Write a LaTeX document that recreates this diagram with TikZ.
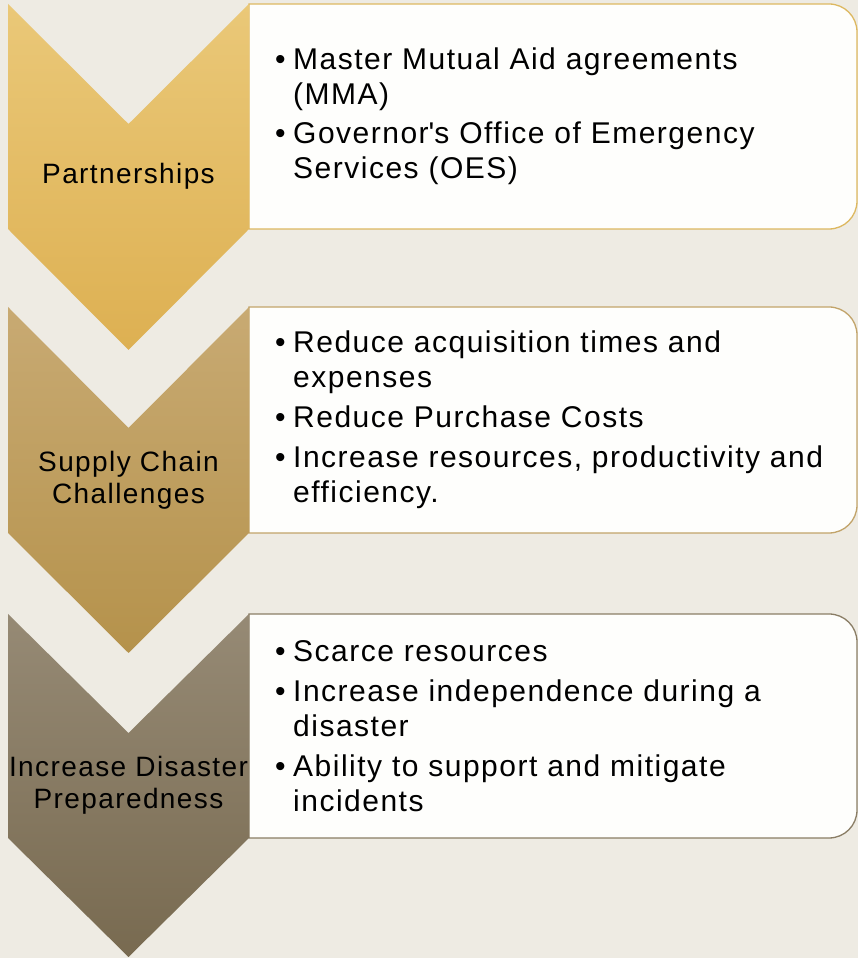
\documentclass[tikz,border=0pt]{standalone}
\usepackage{fontspec}
\setmainfont{Liberation Sans}[LetterSpace=5]
\usetikzlibrary{positioning}
\definecolor{paper}{HTML}{EEEBE3}
\definecolor{cardwhite}{HTML}{FEFEFC}
\definecolor{goldA}{HTML}{EAC878}
\definecolor{goldB}{HTML}{DDB052}
\definecolor{tanA}{HTML}{C8AA73}
\definecolor{tanB}{HTML}{B5924B}
\definecolor{umberA}{HTML}{968A75}
\definecolor{umberB}{HTML}{786A50}
\definecolor{goldline}{HTML}{DDB860}
\definecolor{tanline}{HTML}{C2A46A}
\definecolor{umberline}{HTML}{8A7D65}
\tikzset{
  steplabel/.style={font=\fontsize{28}{32}\selectfont, text=black, align=center},
  itemlist/.style={font=\fontsize{30}{35}\selectfont, text=black, align=left, anchor=west, inner sep=0pt},
  card/.style={fill=cardwhite, line width=1.3pt},
  goldcard/.style={card, draw=goldline},
  tancard/.style={card, draw=tanline},
  umbercard/.style={card, draw=umberline},
  goldchev/.style={top color=goldA, bottom color=goldB},
  tanchev/.style={top color=tanA, bottom color=tanB},
  umberchev/.style={top color=umberA, bottom color=umberB}
}
\newcommand{\bitem}{\makebox[18pt][l]{\textbullet}}
\newcommand{\bcont}{\hspace*{18pt}}

\begin{document}
\begin{tikzpicture}[x=1pt,y=1pt]
\useasboundingbox (0,0) rectangle (858,958);
\fill[paper] (0,0) rectangle (858,958);

% cards, rounded on the right only
\draw[goldcard] (249,729) -- (249,954) -- (829,954) arc[start angle=90, end angle=0, radius=28]
  -- (857,757) arc[start angle=0, end angle=-90, radius=28] -- cycle;
\draw[tancard] (249,425) -- (249,651) -- (829,651) arc[start angle=90, end angle=0, radius=28]
  -- (857,453) arc[start angle=0, end angle=-90, radius=28] -- cycle;
\draw[umbercard] (249,120) -- (249,344) -- (829,344) arc[start angle=90, end angle=0, radius=28]
  -- (857,148) arc[start angle=0, end angle=-90, radius=28] -- cycle;

% chevrons
\shade[goldchev] (8,954) -- (128.5,834) -- (249,954) -- (249,729) -- (128.5,608) -- (8,729) -- cycle;
\shade[tanchev] (8,651) -- (128.5,530) -- (249,651) -- (249,425) -- (128.5,305) -- (8,425) -- cycle;
\shade[umberchev] (8,344) -- (128.5,225) -- (249,344) -- (249,120) -- (128.5,1) -- (8,120) -- cycle;

\node[steplabel] (part) at (128.5,781.5) {Partnerships};
\node[steplabel] (supply) at (128.5,477.5) {Supply Chain\\Challenges};
\node[steplabel] (prep) at (128.5,172.5) {Increase Disaster\\Preparedness};

\node[itemlist] (partlist) at (275,841.5) {\bitem Master Mutual Aid agreements\\ \bcont(MMA)\\[4pt]
\bitem Governor\textquotesingle s Office of Emergency\\ \bcont Services (OES)};

\node[itemlist] (supplylist) at (275,538) {\bitem Reduce acquisition times and\\ \bcont expenses\\[5pt]
\bitem Reduce Purchase Costs\\[5pt]
\bitem Increase resources, productivity and\\ \bcont efficiency.};

\node[itemlist] (preplist) at (275,232) {\bitem Scarce resources\\[5pt]
\bitem Increase independence during a\\ \bcont disaster\\[5pt]
\bitem Ability to support and mitigate\\ \bcont incidents};

\end{tikzpicture}
\end{document}
